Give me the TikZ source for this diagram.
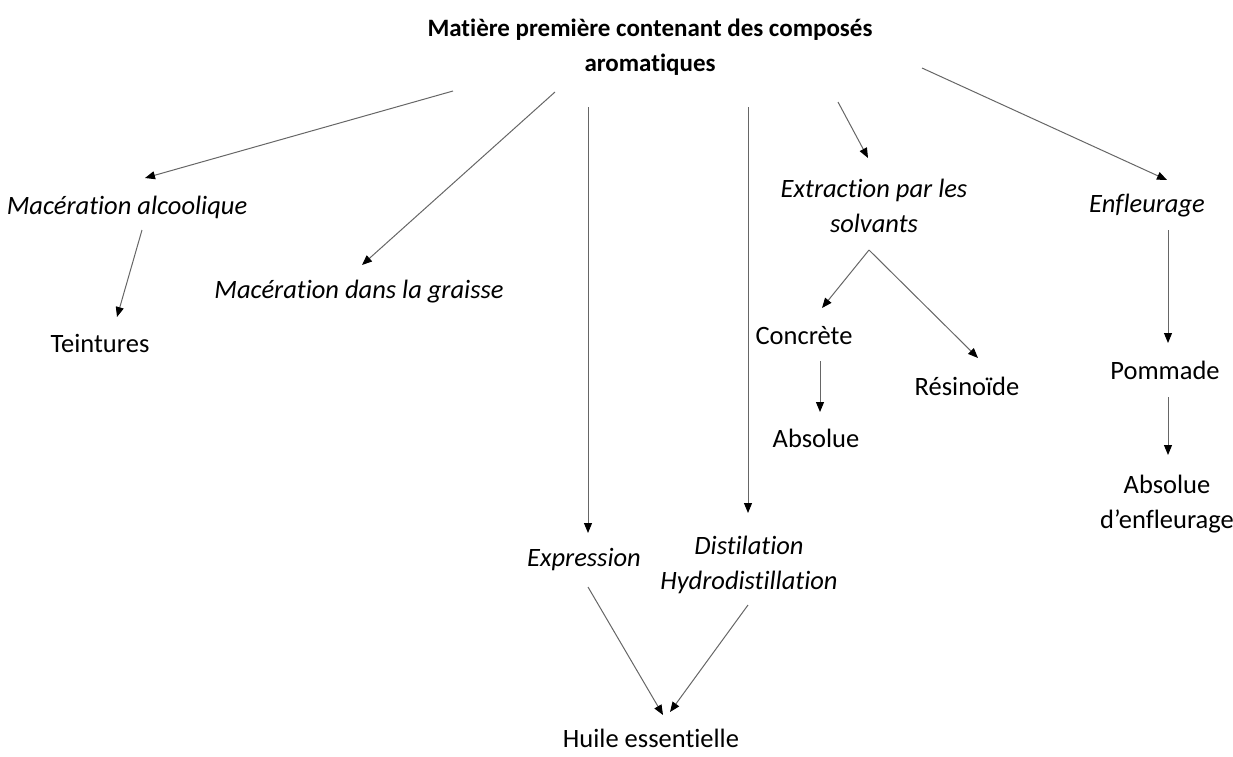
\documentclass[tikz,border=0pt]{standalone}
\usepackage{fontspec}
\setmainfont{Carlito}[RawFeature=-liga]
\usetikzlibrary{arrows.meta}
\begin{document}
\begin{tikzpicture}[x=1pt,y=-1pt,
  lbl/.style={inner sep=0pt,align=center,font=\fontsize{26.5}{35}\selectfont},
  ilbl/.style={lbl,font=\fontsize{26.5}{35}\selectfont\itshape},
  conn/.style={draw=black!60,line width=1pt,-{Triangle[length=10pt,width=8pt,black]}}]
\useasboundingbox (0,0) rectangle (1233,756);
% nodes
\node[lbl,font=\fontsize{25}{35}\selectfont\bfseries] (title) at (650,47) {Matière première contenant des composés\\aromatiques};
\node[ilbl] (macalc) at (127,207) {Macération alcoolique};
\node[lbl] (teint) at (100,343) {Teintures};
\node[ilbl] (macgr) at (359,292) {Macération dans la graisse};
\node[ilbl] (extr) at (874,206) {Extraction par les\\solvants};
\node[ilbl] (enfl) at (1147,206) {Enfleurage};
\node[lbl] (concr) at (804,336) {Concrète};
\node[lbl] (resin) at (967,386) {Résinoïde};
\node[lbl] (absol) at (816,438) {Absolue};
\node[lbl] (pomm) at (1165,370) {Pommade};
\node[lbl] (absenf) at (1167,504) {Absolue\\d’enfleurage};
\node[ilbl] (expr) at (584,560) {Expression};
\node[ilbl] (dist) at (749,565) {Distilation\\Hydrodistillation};
\node[lbl] (huile) at (651,738) {Huile essentielle};
% connector ends
\coordinate (t1) at (453,91);   \coordinate (e1) at (145,178);
\coordinate (t2) at (555,92);   \coordinate (e2) at (362,265);
\coordinate (t3) at (588,107);  \coordinate (e3) at (588,533);
\coordinate (t4) at (748,107);  \coordinate (e4) at (748,513);
\coordinate (t5) at (838,102);  \coordinate (e5) at (868,158);
\coordinate (t6) at (922,68);   \coordinate (e6) at (1167,180);
\coordinate (m1) at (142,230);  \coordinate (f1) at (117,317);
\coordinate (x0) at (869,250);  \coordinate (f2) at (822,308);
\coordinate (f3) at (978,358);
\coordinate (c1) at (820,361);  \coordinate (f4) at (820,412);
\coordinate (n1) at (1168,230); \coordinate (f5) at (1168,343);
\coordinate (p1) at (1168,397); \coordinate (f6) at (1168,455);
\coordinate (x1) at (588,587);  \coordinate (f7) at (663,715);
\coordinate (d1) at (748,605);  \coordinate (f8) at (670,712);
% connectors
\draw[conn] (t1) -- (e1);
\draw[conn] (t2) -- (e2);
\draw[conn] (t3) -- (e3);
\draw[conn] (t4) -- (e4);
\draw[conn] (t5) -- (e5);
\draw[conn] (t6) -- (e6);
\draw[conn] (m1) -- (f1);
\draw[conn] (x0) -- (f2);
\draw[conn] (x0) -- (f3);
\draw[conn] (c1) -- (f4);
\draw[conn] (n1) -- (f5);
\draw[conn] (p1) -- (f6);
\draw[conn] (x1) -- (f7);
\draw[conn] (d1) -- (f8);
\end{tikzpicture}
\end{document}
